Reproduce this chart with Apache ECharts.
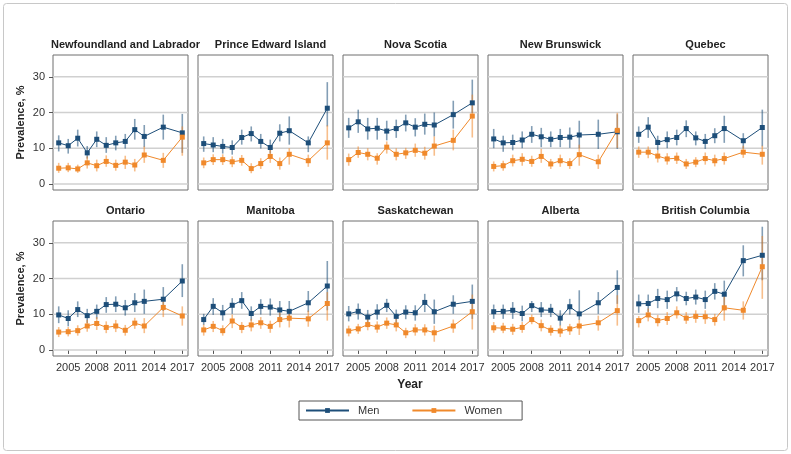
<!DOCTYPE html>
<html><head><meta charset="utf-8">
<script src="https://cdn.jsdelivr.net/npm/echarts@6/dist/echarts.min.js"></script>
<style>html,body{margin:0;padding:0;background:#fff}#c{width:791px;height:454px}</style>
</head><body><div id="c"></div>
<script>
const years = [2004,2005,2006,2007,2008,2009,2010,2011,2012,2013,2015,2017];
const provinces = ['Newfoundland and Labrador','Prince Edward Island','Nova Scotia','New Brunswick','Quebec','Ontario','Manitoba','Saskatchewan','Alberta','British Columbia'];
const xTicks = [2005,2008,2011,2014,2017];
const yTicks = [0,10,20,30];
// [value, lower, upper]
const nlMen = [[11.5,9.1,13.6],[10.7,8.5,12.6],[12.8,10.5,15.2],[8.7,7.1,10.6],[12.5,10.3,14.7],[10.8,8.7,13.1],[11.5,9.4,13.5],[11.9,9.9,14.0],[15.2,12.4,18.2],[13.3,10.3,16.5],[15.9,12.4,19.4],[14.3,8.7,19.6]];
const nlWomen = [[4.4,3.1,5.9],[4.5,3.3,5.9],[4.2,3.1,5.4],[5.9,4.3,7.7],[5.1,3.5,6.8],[6.3,4.8,8.0],[5.2,3.7,6.8],[6.1,4.2,7.9],[5.3,3.5,7.0],[8.1,5.9,10.5],[6.6,4.5,8.7],[13.1,7.9,16.1]];
const peMen = [[11.3,9.0,13.3],[10.9,8.9,13.1],[10.5,8.5,12.6],[10.2,8.2,12.2],[13.0,11.0,15.2],[14.1,11.9,16.1],[11.9,9.9,14.0],[10.2,8.5,12.4],[14.2,11.9,16.7],[14.9,11.0,18.9],[11.5,8.9,13.3],[21.2,16.1,28.5]];
const peWomen = [[5.9,4.4,7.4],[6.8,5.3,8.3],[6.8,5.3,8.3],[6.2,4.7,7.7],[6.6,5.1,8.1],[4.3,3.0,5.8],[5.7,4.2,7.2],[7.7,5.9,9.6],[5.7,4.0,7.4],[8.3,5.4,10.0],[6.5,4.8,8.2],[11.5,6.8,16.4]];
const nsMen = [[15.7,12.9,18.5],[17.4,14.3,20.8],[15.4,12.4,18.5],[15.6,12.4,18.5],[14.8,12.2,17.7],[15.5,12.9,18.0],[17.1,14.7,19.4],[15.9,13.3,18.4],[16.7,13.8,19.7],[16.5,13.3,20.0],[19.4,15.5,23.3],[22.7,19.9,29.2]];
const nsWomen = [[6.8,5.1,8.5],[8.8,7.3,10.5],[8.3,6.6,10.0],[7.2,5.4,8.6],[10.3,8.5,11.9],[8.3,6.6,10.0],[8.7,7.0,10.1],[9.4,7.6,11.3],[8.6,6.8,10.4],[10.6,7.9,13.3],[12.2,9.4,15.2],[19.0,13.0,25.0]];
const nbMen = [[12.6,10.0,15.4],[11.5,9.0,13.5],[11.6,9.4,13.8],[12.3,10.0,14.7],[13.9,11.5,16.2],[13.2,10.3,15.7],[12.5,10.3,14.7],[13.0,10.3,15.4],[13.1,10.1,15.8],[13.7,10.0,17.7],[13.9,9.8,18.0],[14.6,9.8,19.5]];
const nbWomen = [[4.9,3.5,6.3],[5.1,3.7,6.5],[6.5,4.9,8.2],[6.9,5.1,8.6],[6.3,4.8,7.9],[7.7,5.9,9.8],[5.6,4.2,7.0],[6.5,4.8,8.2],[5.7,4.2,7.2],[8.2,5.1,11.0],[6.2,4.2,8.2],[15.0,10.1,19.9]];
const qcMen = [[13.9,11.5,16.1],[15.9,12.9,18.7],[11.6,9.4,13.5],[12.4,10.0,14.7],[13.0,10.8,15.2],[15.5,13.1,17.8],[12.9,10.8,14.7],[11.9,9.8,14.0],[13.5,11.4,15.6],[15.5,11.5,19.1],[12.1,9.9,14.2],[15.8,10.5,20.8]];
const qcWomen = [[8.9,7.3,10.5],[8.9,7.2,10.5],[7.8,6.0,9.4],[7.0,5.4,8.6],[7.2,5.6,8.8],[5.6,4.2,7.0],[6.1,4.7,7.5],[7.1,5.4,8.8],[6.5,4.9,8.2],[7.1,5.4,8.8],[8.9,7.3,10.7],[8.3,5.4,10.7]];
const onMen = [[9.8,7.5,12.2],[8.8,6.6,11.1],[11.3,9.2,13.6],[9.6,7.5,11.5],[10.8,8.7,12.7],[12.7,10.4,14.8],[12.8,10.6,15.0],[11.8,9.6,14.0],[13.2,10.6,15.9],[13.6,10.1,16.9],[14.2,10.9,17.6],[19.3,14.8,24.0]];
const onWomen = [[5.0,3.6,6.4],[5.1,3.8,6.4],[5.4,4.0,6.9],[6.7,5.1,8.4],[7.4,5.6,9.2],[6.3,4.7,8.0],[6.7,5.0,8.4],[5.5,4.0,7.0],[7.5,5.9,9.0],[6.7,4.7,8.9],[11.9,9.2,14.3],[9.5,6.8,12.2]];
const mbMen = [[8.5,7.0,10.1],[12.2,9.8,14.5],[10.4,8.2,12.6],[12.5,10.1,14.5],[13.8,11.5,16.2],[10.2,8.2,12.2],[12.2,9.9,14.2],[12.0,9.6,14.4],[11.2,9.1,13.7],[10.8,8.2,13.7],[13.2,10.6,16.5],[17.9,11.1,24.9]];
const mbWomen = [[5.6,4.0,7.1],[6.6,5.0,8.1],[5.4,4.0,6.9],[8.1,6.1,9.9],[6.3,4.7,7.8],[7.0,5.2,8.7],[7.6,5.9,9.2],[6.6,4.8,8.2],[8.5,6.3,10.5],[8.9,6.3,11.0],[8.7,6.5,11.0],[13.0,8.2,16.2]];
const skMen = [[10.1,8.0,12.3],[10.8,8.5,13.0],[9.2,7.1,11.2],[10.6,8.5,12.8],[12.5,10.6,14.3],[9.4,7.4,11.3],[10.6,8.6,12.5],[10.4,8.2,12.5],[13.3,10.6,15.7],[10.7,7.3,14.1],[12.8,10.1,15.3],[13.6,8.7,18.3]];
const skWomen = [[5.3,3.8,6.8],[5.9,4.5,7.3],[7.1,5.5,8.7],[6.4,4.8,8.0],[7.5,5.9,9.1],[7.0,5.2,8.8],[4.8,3.3,6.2],[5.6,4.0,7.2],[5.6,4.0,7.2],[4.8,2.3,6.8],[6.7,4.8,8.5],[10.7,5.7,15.5]];
const abMen = [[10.7,8.7,12.7],[10.8,8.7,12.7],[11.1,8.7,13.4],[10.2,8.0,12.4],[12.4,10.6,13.7],[11.2,9.2,13.4],[11.1,9.2,12.9],[8.9,6.8,11.1],[12.1,9.9,14.3],[10.1,8.4,16.7],[13.2,10.1,16.2],[17.5,12.9,22.3]];
const abWomen = [[6.2,4.8,7.8],[6.1,4.7,7.6],[5.8,4.2,7.3],[6.3,4.8,7.8],[8.5,7.2,9.9],[6.8,5.2,8.5],[5.5,4.0,6.9],[5.3,3.6,6.9],[5.9,4.2,7.3],[6.7,4.2,8.5],[7.6,5.4,9.6],[11.0,6.8,15.3]];
const bcMen = [[12.9,10.4,15.5],[13.0,10.6,15.5],[14.4,11.7,17.1],[14.1,11.5,16.6],[15.7,13.6,17.6],[14.4,12.5,16.3],[14.8,12.7,16.9],[14.1,11.5,16.6],[16.4,14.1,18.7],[15.6,11.1,19.4],[25.0,20.6,29.3],[26.5,19.5,34.5]];
const bcWomen = [[8.2,6.3,9.5],[9.8,8.0,11.6],[8.2,6.6,9.8],[8.8,7.0,10.6],[10.4,8.8,12.2],[8.9,7.3,10.6],[9.4,7.6,11.1],[9.3,7.3,11.1],[8.5,6.8,10.1],[11.8,8.2,15.3],[11.1,8.5,13.6],[23.3,14.3,31.9]];

const panels = [[nlMen,nlWomen],[peMen,peWomen],[nsMen,nsWomen],[nbMen,nbWomen],[qcMen,qcWomen],
                [onMen,onWomen],[mbMen,mbWomen],[skMen,skWomen],[abMen,abWomen],[bcMen,bcWomen]];

const MEN = '#1d4e79', WOMEN = '#f0892b';
const FONT = '"Liberation Sans", Arial, Helvetica, sans-serif';
const lefts = [53,198,343,488,633], tops = [55,221], PW = 135, PH = 135;
const X_MIN = 2003.4, X_MAX = 2017.6;

const grid = [], xAxis = [], yAxis = [], series = [], title = [];
panels.forEach((p, i) => {
  const r = Math.floor(i / 5), c = i % 5;
  grid.push({left: lefts[c], top: tops[r], width: PW, height: PH, show: true, z: 0,
    backgroundColor: 'transparent', borderColor: '#6e6e6e', borderWidth: 1, containLabel: false});
  title.push({text: provinces[i], left: lefts[c] + PW / 2, top: tops[r] - 21, textAlign: 'center',
    textStyle: {fontFamily: FONT, fontSize: 11, fontWeight: 'bold', color: '#222'}});
  xAxis.push({type: 'value', gridIndex: i, min: X_MIN, max: X_MAX,
    axisLine: {show: false},
    axisTick: {show: r === 1, customValues: xTicks, length: 4, lineStyle: {color: '#555'}},
    axisLabel: {show: r === 1, customValues: xTicks, margin: 6, fontFamily: FONT, fontSize: 11, color: '#333', formatter: v => String(v)},
    splitLine: {show: false}});
  yAxis.push({type: 'value', gridIndex: i, min: -1.7, max: 36.1,
    axisLine: {show: false},
    axisTick: {show: c === 0, customValues: yTicks, length: 4, lineStyle: {color: '#555'}},
    axisLabel: {show: c === 0, customValues: yTicks, margin: 8, fontFamily: FONT, fontSize: 11, color: '#333', formatter: v => String(v)},
    splitLine: {show: false}});
  // horizontal reference lines at the y tick values
  yTicks.forEach(v => {
    series.push({type: 'line', name: 'gridline', xAxisIndex: i, yAxisIndex: i, silent: true, z: 5,
      data: [[X_MIN, v], [X_MAX, v]], symbol: 'none', showSymbol: false,
      lineStyle: {color: '#d0d0d0', width: 1.5}});
  });
  [[p[0], 'Men', MEN], [p[1], 'Women', WOMEN]].forEach(([arr, name, col]) => {
    series.push({type: 'custom', name: name + ' CI', xAxisIndex: i, yAxisIndex: i, silent: true, z: 6,
      data: years.map((y, k) => [y, arr[k][1], arr[k][2]]),
      encode: {x: 0, y: [1, 2]},
      renderItem: (params, api) => {
        const a = api.coord([api.value(0), api.value(1)]);
        const b = api.coord([api.value(0), api.value(2)]);
        return {type: 'line', shape: {x1: a[0], y1: a[1], x2: b[0], y2: b[1]},
          style: {stroke: col, lineWidth: 1.6, opacity: 0.55}};
      }});
    series.push({type: 'line', name: name, xAxisIndex: i, yAxisIndex: i, z: 7,
      data: years.map((y, k) => [y, arr[k][0]]),
      symbol: 'rect', symbolSize: 5, showSymbol: true,
      lineStyle: {color: col, width: 1}, itemStyle: {color: col}});
  });
});

const yLabel = (cy) => ({type: 'text', x: 21, y: cy, rotation: Math.PI / 2,
  style: {text: 'Prevalence, %', font: 'bold 11px ' + FONT, fill: '#222', textAlign: 'center', textVerticalAlign: 'middle'}});

const chart = echarts.init(document.getElementById('c'), null, {renderer: 'canvas'});
chart.setOption({
  animation: false,
  backgroundColor: '#fff',
  title: title,
  grid: grid, xAxis: xAxis, yAxis: yAxis, series: series,
  legend: {data: ['Men', 'Women'], left: 299, top: 401, width: 207, height: 23,
    borderColor: '#555', borderWidth: 1, padding: [4, 20, 4, 6], itemGap: 32,
    itemWidth: 43, itemHeight: 6, textStyle: {fontFamily: FONT, fontSize: 11, color: '#333', padding: [0, 0, 0, 4]}},
  graphic: [
    {type: 'rect', shape: {x: 3.5, y: 3.5, width: 784, height: 447, r: 3}, style: {fill: 'none', stroke: '#c8c8c8', lineWidth: 1}, silent: true, z: -1},
    yLabel(tops[0] + PH / 2),
    yLabel(tops[1] + PH / 2),
    {type: 'text', x: 410, y: 385, style: {text: 'Year', font: 'bold 12px ' + FONT, fill: '#222', textAlign: 'center', textVerticalAlign: 'middle'}}
  ]
});
</script></body></html>
